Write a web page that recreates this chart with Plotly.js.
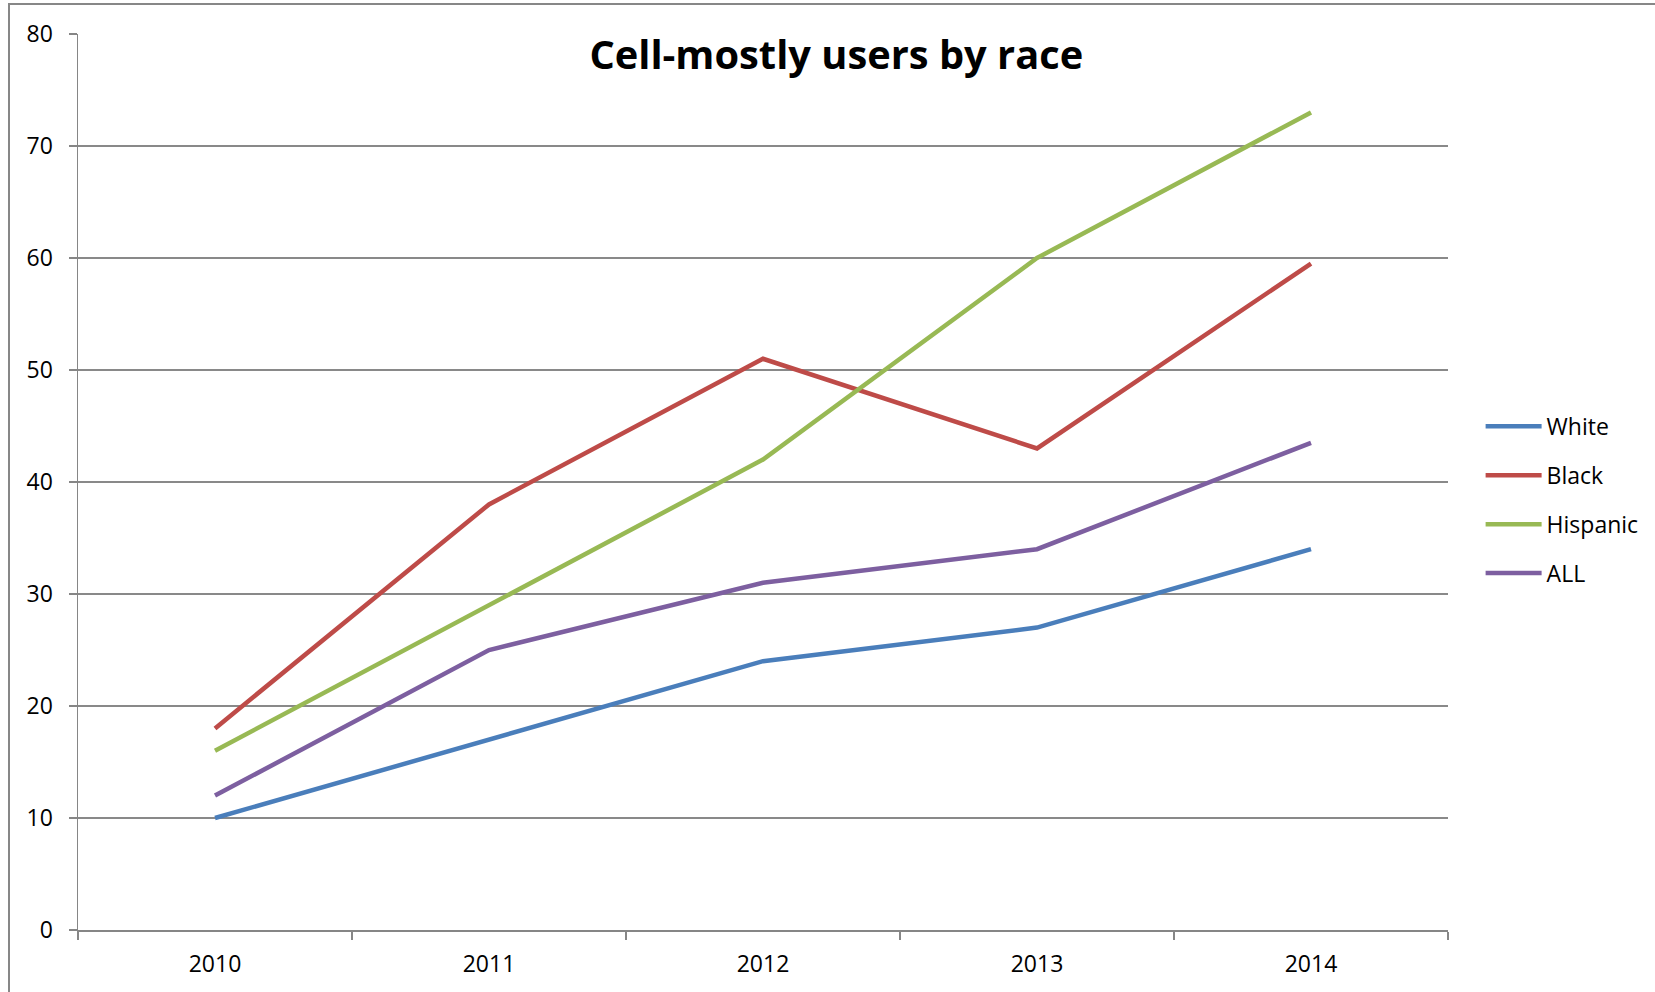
<!DOCTYPE html>
<html>
<head>
<meta charset="utf-8">
<script src="https://cdn.plot.ly/plotly-3.0.1.min.js"></script>
<style>
  html, body { margin: 0; padding: 0; background: #fff; overflow: hidden; }
  #chart { width: 1655px; height: 992px; position: absolute; left: 0; top: 0; }
  #frame { position: absolute; left: 8px; top: 3px; width: 1700px; height: 1100px;
           border: 2px solid #878787; pointer-events: none; }
</style>
</head>
<body>
<div id="chart"></div>
<div id="frame"></div>
<script>
const years = ['2010', '2011', '2012', '2013', '2014'];
const white = [10, 17, 24, 27, 34];
const black = [18, 38, 51, 43, 59.5];
const hispanic = [16, 29, 42, 60, 73];
const all = [12, 25, 31, 34, 43.5];
const seriesNames = ['White', 'Black', 'Hispanic', 'ALL'];
const seriesColors = ['#4A7EBB', '#BE4B48', '#98B954', '#7D5FA0'];
const yTicks = [0, 10, 20, 30, 40, 50, 60, 70, 80];

const seriesValues = [white, black, hispanic, all];
const traces = seriesValues.map((vals, i) => ({
  type: 'scatter',
  mode: 'lines',
  x: years,
  y: vals,
  name: seriesNames[i],
  legendgroup: 'g' + i,
  line: { color: seriesColors[i], width: 4.5 },
  hoverinfo: 'skip'
}));

const font = { family: '"Open Sans", "Noto Sans", sans-serif', color: '#000' };

const layout = {
  width: 1655,
  height: 992,
  margin: { l: 78, r: 207, t: 34, b: 62, autoexpand: false },
  paper_bgcolor: 'rgba(0,0,0,0)',
  plot_bgcolor: 'rgba(0,0,0,0)',
  font: Object.assign({ size: 23 }, font),
  showlegend: true,
  title: {
    text: '<b>Cell-mostly users by race</b>',
    font: Object.assign({ size: 39.8 }, font),
    xref: 'paper', x: 0.5535, xanchor: 'center',
    yref: 'container', y: 0.944, yanchor: 'middle'
  },
  xaxis: {
    type: 'category',
    categoryorder: 'array',
    categoryarray: years,
    range: [-0.5, 4.5],
    showgrid: false,
    zeroline: false,
    showline: true,
    linecolor: '#868686',
    linewidth: 1.5,
    ticks: 'outside',
    tickson: 'boundaries',
    ticklen: 8,
    tickwidth: 1.5,
    tickcolor: '#868686',
    ticklabelstandoff: 13,
    tickfont: Object.assign({ size: 23 }, font),
    automargin: false,
    fixedrange: true
  },
  yaxis: {
    range: [0, 80],
    tickvals: yTicks,
    ticktext: yTicks.map(String),
    showgrid: true,
    gridcolor: '#898989',
    gridwidth: 1.5,
    zeroline: false,
    showline: true,
    linecolor: '#868686',
    linewidth: 1.5,
    ticks: 'outside',
    ticklen: 8,
    tickwidth: 1.5,
    tickcolor: '#868686',
    ticklabelstandoff: 11,
    tickfont: Object.assign({ size: 23 }, font),
    automargin: false,
    fixedrange: true
  },
  legend: {
    x: 1.0238, xanchor: 'left',
    y: 0.48, yanchor: 'middle',
    traceorder: 'grouped',
    tracegroupgap: 16,
    itemwidth: 56,
    bgcolor: 'rgba(0,0,0,0)',
    borderwidth: 0,
    font: Object.assign({ size: 23 }, font)
  }
};

Plotly.newPlot('chart', traces, layout, { displayModeBar: false, staticPlot: true });
</script>
</body>
</html>
